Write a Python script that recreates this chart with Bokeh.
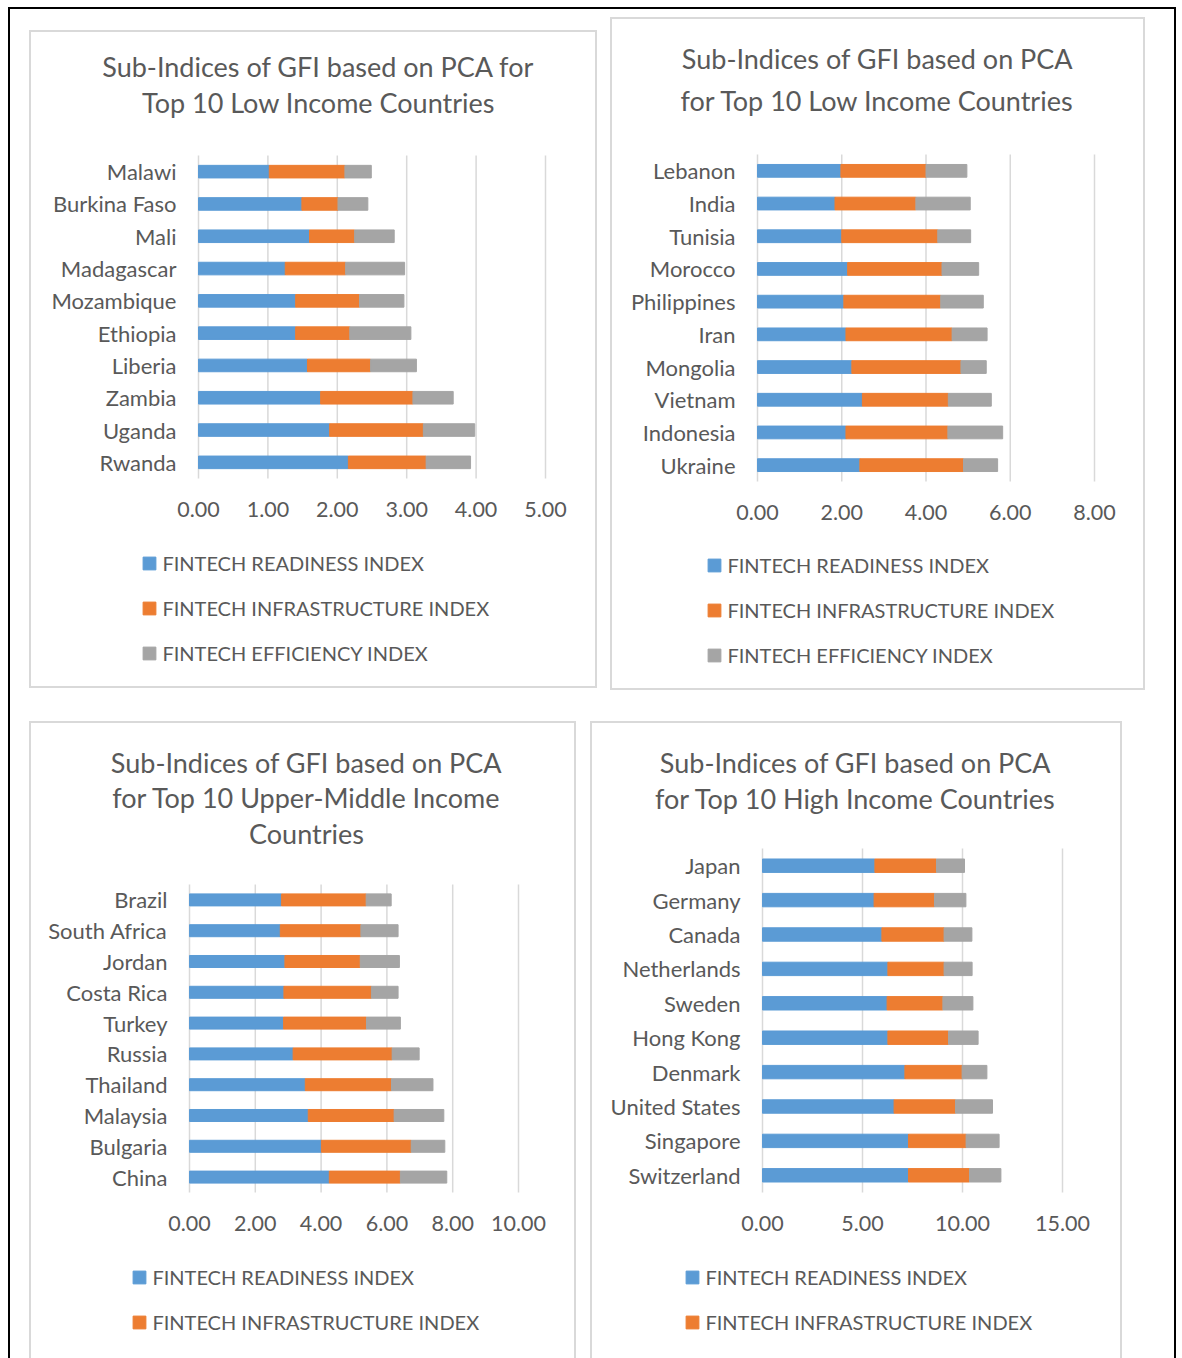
from bokeh.plotting import figure
from bokeh.models import (ColumnDataSource, Range1d, FixedTicker, NumeralTickFormatter,
                          Legend, LegendItem, Label, LinearAxis, Spacer)
from bokeh.layouts import row, column
from bokeh.embed import file_html
from bokeh.resources import INLINE

FONT = "Lato"
TEXT = "#595959"
GRID = "#D9D9D9"
SERIES = ["FINTECH READINESS INDEX", "FINTECH INFRASTRUCTURE INDEX", "FINTECH EFFICIENCY INDEX"]
COLORS = ["#5B9BD5", "#ED7D31", "#A5A5A5"]

# ---- Low income (listed top to bottom) ----
low_countries = ["Malawi", "Burkina Faso", "Mali", "Madagascar", "Mozambique",
                 "Ethiopia", "Liberia", "Zambia", "Uganda", "Rwanda"]
low_readiness = [1.02, 1.49, 1.60, 1.25, 1.40, 1.40, 1.57, 1.76, 1.89, 2.16]
low_infrastructure = [1.09, 0.52, 0.65, 0.87, 0.92, 0.78, 0.91, 1.33, 1.35, 1.12]
low_efficiency = [0.38, 0.43, 0.57, 0.85, 0.64, 0.88, 0.66, 0.58, 0.74, 0.64]

# ---- Lower-middle income ----
lmid_countries = ["Lebanon", "India", "Tunisia", "Morocco", "Philippines",
                  "Iran", "Mongolia", "Vietnam", "Indonesia", "Ukraine"]
lmid_readiness = [1.98, 1.84, 2.00, 2.14, 2.05, 2.10, 2.24, 2.49, 2.10, 2.43]
lmid_infrastructure = [2.02, 1.92, 2.28, 2.24, 2.30, 2.52, 2.59, 2.04, 2.42, 2.46]
lmid_efficiency = [0.97, 1.29, 0.78, 0.87, 1.01, 0.83, 0.60, 1.02, 1.30, 0.81]

# ---- Upper-middle income ----
umid_countries = ["Brazil", "South Africa", "Jordan", "Costa Rica", "Turkey",
                  "Russia", "Thailand", "Malaysia", "Bulgaria", "China"]
umid_readiness = [2.80, 2.76, 2.90, 2.87, 2.86, 3.15, 3.52, 3.61, 4.01, 4.25]
umid_infrastructure = [2.57, 2.45, 2.29, 2.66, 2.52, 3.01, 2.62, 2.61, 2.73, 2.16]
umid_efficiency = [0.76, 1.13, 1.19, 0.81, 1.03, 0.82, 1.26, 1.51, 1.02, 1.41]

# ---- High income ----
high_countries = ["Japan", "Germany", "Canada", "Netherlands", "Sweden",
                  "Hong Kong", "Denmark", "United States", "Singapore", "Switzerland"]
high_readiness = [5.62, 5.58, 5.97, 6.27, 6.23, 6.27, 7.12, 6.58, 7.30, 7.30]
high_infrastructure = [3.08, 3.02, 3.11, 2.81, 2.79, 3.03, 2.86, 3.07, 2.88, 3.05]
high_efficiency = [1.40, 1.57, 1.39, 1.40, 1.50, 1.48, 1.24, 1.85, 1.65, 1.57]

low_ticks = [0, 1, 2, 3, 4, 5]
lmid_ticks = [0, 2, 4, 6, 8]
umid_ticks = [0, 2, 4, 6, 8, 10]
high_ticks = [0, 5, 10, 15]

SHADOW_FULL = "0 0 0 2px " + GRID
SHADOW_OPEN = ", ".join(f"{dx}px {dy}px 0 0 " + GRID
                        for dx, dy in [(-2, 0), (2, 0), (0, -2), (-2, -2), (2, -2)])


def panel(countries, readiness, infra, effic, ticks, title_lines, geo):
    """One chart box. The plot frame fills the whole box; the bar area is the
    slot range [-0.5, n-0.5] x [0, max tick] and the axes are pinned to its edges."""
    ox, oy, w, h = geo["box"]          # page pixels of the box
    fl, ft, fw, fh = geo["frame"]      # page pixels of the bar area
    n = len(countries)
    xmax = ticks[-1]
    ppx = fw / xmax
    ppy = fh / n
    x0 = -(fl - ox) / ppx
    x1 = xmax + (ox + w - fl - fw) / ppx
    y_top = n - 0.5 + (ft - oy) / ppy
    y_bot = -0.5 - (oy + h - ft - fh) / ppy

    p = figure(frame_width=w, frame_height=h,
               x_range=Range1d(x0, x1), y_range=Range1d(y_bot, y_top),
               x_axis_location=None, y_axis_location=None,
               min_border_left=0, min_border_right=0, min_border_top=0, min_border_bottom=0,
               output_backend="svg", toolbar_location=None,
               outline_line_color=None, background_fill_color="white",
               border_fill_color="white", styles={"box-shadow": geo["shadow"]})
    p.grid.visible = False

    pos = list(range(n - 1, -1, -1))   # first country on top
    src = ColumnDataSource(dict(pos=pos, country=countries, ready=readiness,
                                infra=infra, effic=effic))

    # vertical gridlines at the value ticks, spanning the bar area
    p.segment(x0=ticks, y0=[-0.5] * len(ticks), x1=ticks, y1=[n - 0.5] * len(ticks),
              line_color=GRID, line_width=1.5)

    rs = p.hbar_stack(["ready", "infra", "effic"], y="pos", height=0.39,
                      color=COLORS, source=src)

    xaxis = LinearAxis(ticker=FixedTicker(ticks=ticks),
                       formatter=NumeralTickFormatter(format="0.00"),
                       fixed_location=-0.5, major_label_standoff=23,
                       major_label_text_font_size="21.5px")
    yaxis = LinearAxis(ticker=FixedTicker(ticks=pos),
                       major_label_overrides={k: c for k, c in zip(pos, countries)},
                       fixed_location=0, major_label_standoff=22,
                       major_label_text_font_size="22px")
    for ax in (xaxis, yaxis):
        ax.axis_line_color = None
        ax.major_tick_line_color = None
        ax.minor_tick_line_color = None
        ax.major_tick_out = 0
        ax.major_tick_in = 0
        ax.minor_tick_out = 0
        ax.major_label_text_font = FONT
        ax.major_label_text_color = TEXT
    p.add_layout(xaxis, "below")
    p.add_layout(yaxis, "left")

    cx, ys = geo["title"]
    for line, cy in zip(title_lines, ys):
        p.add_layout(Label(x=(cx - fl) / ppx, y=n - 0.5 + (ft - cy) / ppy, text=line,
                           text_align="center", text_baseline="middle",
                           text_font=FONT, text_font_size="27px", text_color=TEXT))

    # legend below the axis; entries that would fall past the box edge are left out
    item_h, step, glyph = 26, 45, 16
    gx, gy = geo["legend"]
    shown = [k for k in range(len(SERIES)) if gy + k * step + item_h / 2 <= oy + h]
    leg_h = len(shown) * item_h + (len(shown) - 1) * (step - item_h)
    top = gy - item_h / 2
    legend = Legend(items=[LegendItem(label=SERIES[k], renderers=[rs[k]]) for k in shown],
                    location=(gx - ox - 0.1 * glyph, (oy + h) - top - leg_h),
                    orientation="vertical", padding=0, margin=0,
                    spacing=step - item_h, glyph_width=glyph, glyph_height=glyph,
                    label_height=item_h, label_standoff=5,
                    label_text_font=FONT, label_text_font_size="20px",
                    label_text_color=TEXT, border_line_color=None,
                    background_fill_alpha=0)
    p.add_layout(legend)
    return p


p1 = panel(low_countries, low_readiness, low_infrastructure, low_efficiency, low_ticks,
           ["Sub-Indices of GFI based on PCA for", "Top 10 Low Income Countries"],
           dict(box=(31, 32, 564, 654), frame=(198, 155, 347, 323),
                title=(318, [66, 102]), legend=(143, 563), shadow=SHADOW_FULL))
p2 = panel(lmid_countries, lmid_readiness, lmid_infrastructure, lmid_efficiency, lmid_ticks,
           ["Sub-Indices of GFI based on PCA", "for Top 10 Low Income Countries"],
           dict(box=(612, 19, 531, 669), frame=(757, 154, 337, 327),
                title=(877, [58, 100]), legend=(708, 565), shadow=SHADOW_FULL))
p3 = panel(umid_countries, umid_readiness, umid_infrastructure, umid_efficiency, umid_ticks,
           ["Sub-Indices of GFI based on PCA", "for Top 10 Upper-Middle Income", "Countries"],
           dict(box=(31, 723, 543, 635), frame=(189, 884, 329, 308),
                title=(306, [762, 797, 833]), legend=(133, 1277), shadow=SHADOW_OPEN))
p4 = panel(high_countries, high_readiness, high_infrastructure, high_efficiency, high_ticks,
           ["Sub-Indices of GFI based on PCA", "for Top 10 High Income Countries"],
           dict(box=(592, 723, 528, 635), frame=(762, 848, 300, 344),
                title=(855, [762, 798]), legend=(686, 1277), shadow=SHADOW_OPEN))

top_row = row(Spacer(width=21, height=669),
              column(Spacer(width=564, height=13), p1),
              Spacer(width=17, height=669), p2)
bottom_row = row(Spacer(width=21, height=635), p3, Spacer(width=18, height=635), p4)

frame_shadow = ", ".join(f"{dx}px {dy}px 0 0 #000"
                         for dx, dy in [(-2, 0), (2, 0), (0, -2), (-2, -2), (2, -2)])
sheet = column(Spacer(width=1164, height=10), top_row,
               Spacer(width=1164, height=35), bottom_row,
               styles={"box-shadow": frame_shadow})

page = column(Spacer(width=1182, height=9),
              row(Spacer(width=10, height=1349), sheet, Spacer(width=8, height=1349)))

open("out.html", "w").write(file_html(page, INLINE))
